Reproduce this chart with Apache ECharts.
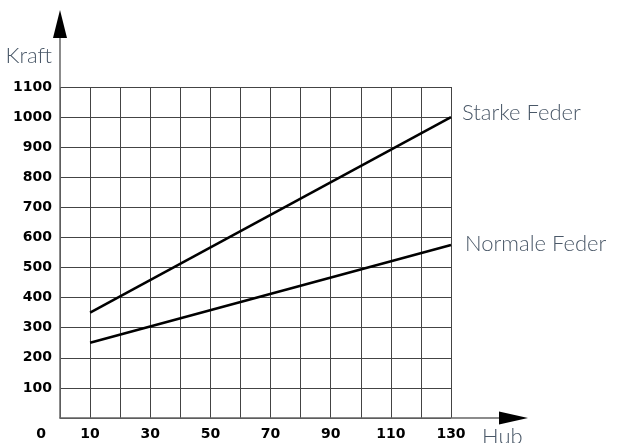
<!DOCTYPE html>
<html>
<head>
<meta charset="utf-8">
<script src="https://cdn.jsdelivr.net/npm/echarts@6/dist/echarts.min.js"></script>
<style>html,body{margin:0;padding:0;background:#fff;}#c{width:617px;height:443px;}</style>
</head>
<body>
<div id="c"></div>
<script>
var hub = [10, 130];
var starkeFeder = [350, 1000];
var normaleFeder = [250, 575];
var seriesNames = ['Starke Feder', 'Normale Feder'];
var xLabels = [0, 10, 30, 50, 70, 90, 110, 130];
var yMax = 1100;

var chart = echarts.init(document.getElementById('c'), null, {renderer: 'canvas'});
var nameColor = '#4a5868';
var nameFont = 'Lato';
function pairs(xs, ys) { return xs.map(function (x, i) { return [x, ys[i]]; }); }

function lineAxis(grid, color, width, size) {
  return {
    gridIndex: grid, type: 'value', min: 0, max: 1,
    axisLine: {show: true, symbol: ['none', size ? 'triangle' : 'none'], symbolSize: size || [1, 1], lineStyle: {color: color, width: width}},
    axisTick: {show: false}, axisLabel: {show: false}, splitLine: {show: false}
  };
}

chart.setOption({
  animation: false,
  grid: [
    {left: 60, top: 87, right: 166, bottom: 25, containLabel: false, outerBoundsMode: 'none'},
    {left: 60, top: 24, right: 103.5, bottom: 25, containLabel: false, outerBoundsMode: 'none'},
    {left: 60, top: 24, right: 103.5, bottom: 25, containLabel: false, outerBoundsMode: 'none'}
  ],
  xAxis: [
    {
      gridIndex: 0, type: 'value', min: 0, max: 130, interval: 10,
      axisLine: {show: false},
      axisTick: {show: false},
      splitLine: {show: true, lineStyle: {color: '#444', width: 1}},
      axisLabel: {
        margin: 9,
        color: '#000', fontFamily: 'DejaVu Sans', fontWeight: 'bold', fontSize: 14,
        formatter: function (v) {
          if (v === 0) return '{z|0}';
          return xLabels.indexOf(v) >= 0 ? String(v) : '';
        },
        rich: {z: {padding: [0, 38, 0, 0], color: '#000', fontFamily: 'DejaVu Sans', fontWeight: 'bold', fontSize: 14}}
      },
      name: 'Hub', nameLocation: 'end', nameGap: 31,
      nameTextStyle: {color: nameColor, fontFamily: nameFont, fontWeight: 300, fontSize: 22, align: 'left', verticalAlign: 'top', lineHeight: 38}
    },
    lineAxis(1, '#666', 1.5, null),
    lineAxis(2, '#000', 0, [13, 29])
  ],
  yAxis: [
    {
      gridIndex: 0, type: 'value', min: 0, max: yMax, interval: 100,
      axisLine: {show: false},
      axisTick: {show: false},
      splitLine: {show: true, lineStyle: {color: '#444', width: 1}},
      axisLabel: {
        margin: 8, color: '#000', fontFamily: 'DejaVu Sans', fontWeight: 'bold', fontSize: 14,
        formatter: function (v) { return v === 0 ? '' : String(v); }
      },
      name: 'Kraft', nameLocation: 'end', nameGap: 31,
      nameTextStyle: {color: nameColor, fontFamily: nameFont, fontWeight: 300, fontSize: 22, align: 'right', verticalAlign: 'middle', padding: [0, 8, 0, 0]}
    },
    lineAxis(1, '#666', 1.5, null),
    lineAxis(2, '#000', 0, [14, 28])
  ],
  series: [
    {
      name: seriesNames[0], type: 'line', xAxisIndex: 0, yAxisIndex: 0,
      data: pairs(hub, starkeFeder), showSymbol: false, symbol: 'none',
      lineStyle: {color: '#000', width: 2.5},
      endLabel: {show: true, formatter: '{a}', distance: 11, offset: [0, -4], color: nameColor, fontFamily: nameFont, fontWeight: 300, fontSize: 22}
    },
    {
      name: seriesNames[1], type: 'line', xAxisIndex: 0, yAxisIndex: 0,
      data: pairs(hub, normaleFeder), showSymbol: false, symbol: 'none',
      lineStyle: {color: '#000', width: 2.5},
      endLabel: {show: true, formatter: '{a}', distance: 14, offset: [0, -1], color: nameColor, fontFamily: nameFont, fontWeight: 300, fontSize: 22}
    }
  ]
});
</script>
</body>
</html>
